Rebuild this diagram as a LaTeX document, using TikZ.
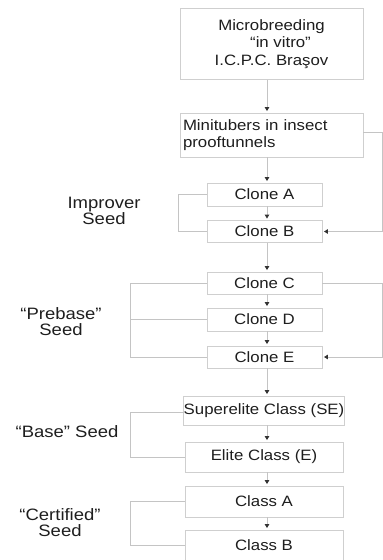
\documentclass[tikz,border=0pt]{standalone}
\usepackage{fontspec}
\setmainfont{Liberation Sans}[FakeStretch=1.12]
\usetikzlibrary{arrows.meta}
\definecolor{linegray}{HTML}{C4C4C4}
\definecolor{boxgray}{HTML}{CFCFCF}
\definecolor{txt}{HTML}{1E1E1E}
\tikzset{
  box/.style={draw=boxgray, line width=0.9pt, fill=white, text=txt, font=\fontsize{15}{17.5}\selectfont, align=center, inner sep=0pt},
  conn/.style={draw=linegray, line width=0.9pt},
  arr/.style={conn, -{Triangle[width=4.5pt,length=4pt,color=black!80]}, shorten >=1.5pt},
  seedlabel/.style={text=txt, font=\fontsize{16.5}{16}\selectfont, align=center, inner sep=0pt}
}
\begin{document}
\begin{tikzpicture}[x=1pt,y=-1pt]
\useasboundingbox (0,0) rectangle (383,560);
\coordinate (col) at (267,0);
\coordinate (rr) at (382,0);
\coordinate (la) at (178,0);
\coordinate (lb) at (130,0);
% boxes
\node[box, minimum width=183pt, minimum height=71pt] (top) at (271.5,44) {Microbreeding\\\hspace{1.2em}``in vitro''\\I.C.P.C. Bra\c{s}ov};
\node[box, minimum width=183pt, minimum height=44pt, align=left, text width=177pt] (mini) at (271.5,135) {Minitubers in insect\\prooftunnels};
\node[box, minimum width=115pt, minimum height=23pt] (cA) at (264.5,194.5) {Clone A};
\node[box, minimum width=115pt, minimum height=22pt] (cB) at (264.5,231.5) {Clone B};
\node[box, minimum width=115pt, minimum height=22pt] (cC) at (264.5,283) {Clone C};
\node[box, minimum width=115pt, minimum height=23pt] (cD) at (264.5,319.5) {Clone D};
\node[box, minimum width=115pt, minimum height=22pt] (cE) at (264.5,357) {Clone E};
\node[box, minimum width=158pt, minimum height=29pt] (se) at (264,410.5) {Superelite Class (SE)};
\node[box, minimum width=158pt, minimum height=30pt] (el) at (264,457) {Elite Class (E)};
\node[box, minimum width=158pt, minimum height=31pt] (ka) at (264,501.5) {Class A};
\node[box, minimum width=158pt, minimum height=40pt] (kb) at (264,550) {};
\node[text=txt, font=\fontsize{15}{17.5}\selectfont, inner sep=0pt] (kbt) at (264,545) {Class B};
% vertical arrows
\draw[arr] (top.south -| col) -- (mini.north -| col);
\draw[arr] (mini.south -| col) -- (cA.north -| col);
\draw[arr] (cA.south -| col) -- (cB.north -| col);
\draw[arr] (cB.south -| col) -- (cC.north -| col);
\draw[arr] (cC.south -| col) -- (cD.north -| col);
\draw[arr] (cD.south -| col) -- (cE.north -| col);
\draw[arr] (cE.south -| col) -- (se.north -| col);
\draw[arr] (se.south -| col) -- (el.north -| col);
\draw[arr] (el.south -| col) -- (ka.north -| col);
\draw[arr] (ka.south -| col) -- (kb.north -| col);
% right loops
\coordinate (m1) at (363,132);
\draw[arr] (m1) -- (m1 -| rr) -- (cB.east -| rr) -- (cB.east);
\draw[arr] (cC.east) -- (cC.east -| rr) -- (cE.east -| rr) -- (cE.east);
% left brackets
\draw[conn] (cA.west) -- (cA.west -| la) -- (cB.west -| la) -- (cB.west);
\draw[conn] (cC.west) -- (cC.west -| lb) -- (cE.west -| lb) -- (cE.west);
\draw[conn] (cD.west) -- (cD.west -| lb);
\coordinate (s1) at (185,412);
\draw[conn] (s1) -- (s1 -| lb) -- (el.west -| lb) -- (el.west);
\coordinate (b1) at (185,545);
\draw[conn] (ka.west) -- (ka.west -| lb) -- (b1 -| lb) -- (b1);
% labels
\node[seedlabel] (l1) at (104,211) {Improver\\Seed};
\node[seedlabel] (l2) at (61,322) {``Prebase''\\Seed};
\node[seedlabel] (l3) at (67,432) {``Base'' Seed};
\node[seedlabel] (l4) at (60,523) {``Certified''\\Seed};
\end{tikzpicture}
\end{document}
